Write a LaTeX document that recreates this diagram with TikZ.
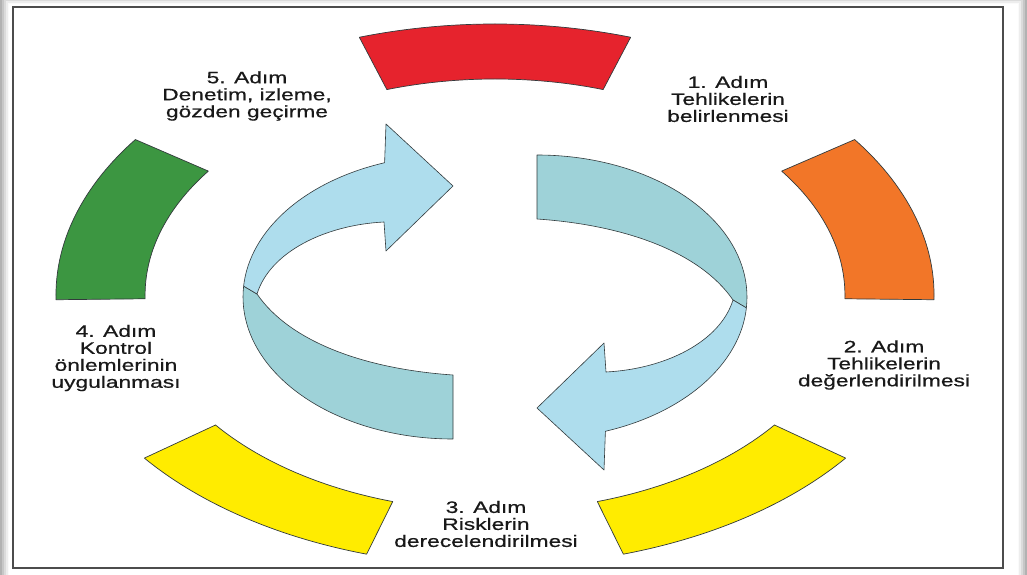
\documentclass[tikz,border=0pt]{standalone}
\usepackage{fontspec}
\setmainfont{Liberation Sans}[FakeStretch=1.38,FakeBold=0.6]
\definecolor{segred}{RGB}{230,35,45}
\definecolor{segorange}{RGB}{242,118,40}
\definecolor{seggreen}{RGB}{60,150,65}
\definecolor{segyellow}{RGB}{255,236,0}
\definecolor{tealband}{RGB}{158,210,216}
\definecolor{blueband}{RGB}{174,221,237}
\definecolor{edgegray}{RGB}{50,58,60}
\tikzset{
  segstyle/.style={draw=edgegray, line width=0.7pt, line join=round},
  ribbon/.style={draw=edgegray, line width=0.6pt, line join=round},
  steplabel/.style={align=center, font=\fontsize{16.5}{17}\selectfont, text=black!90, inner sep=0pt}
}
\begin{document}
\begin{tikzpicture}[x=1pt,y=1pt]
\useasboundingbox (0,0) rectangle (1027,574);
% page shadow and frame
\fill[black!38] (0,0) rectangle (1027,574);
\foreach \o/\c in {9/black!30,7/black!22,5/black!14,3/black!7,1/black!2}{
  \fill[\c] (9-\o,-10) rectangle (1018+\o,570+\o);
}
\fill[white] (9,-10) rectangle (1018,570);
\draw[black!70, line width=1.3pt] (13,6) rectangle (1003,567);
% coloured ring segments
\begin{scope}[shift={(495,279)}, xscale=1.62]
  \foreach \a/\b/\c/\n in {72/108/segred/s5,-1/35/segorange/s1,-73/-37/segyellow/s2,-143/-107/segyellow/s3,145/181/seggreen/s4}{
    \filldraw[segstyle, fill=\c] (\a:271) arc[start angle=\a, end angle=\b, radius=271]
      -- (\b:216) arc[start angle=\b, end angle=\a, radius=216] -- cycle;
  }
\end{scope}
% twisted arrows
\foreach \r in {0,180}{
\begin{scope}[shift={(495,277)}, rotate=\r]
  \filldraw[ribbon, fill=tealband] (42,142) arc[start angle=90, end angle=-4.4, x radius=210, y radius=142]
    -- (238,-3) .. controls (205,45) and (130,72) .. (42,78) -- cycle;
  \filldraw[ribbon, fill=blueband] (251.4,-10.9) arc[start angle=-4.4, end angle=-71, x radius=210, y radius=142]
    -- (109,-173) -- (42,-111) -- (109,-46) -- (111,-75)
    .. controls (170,-72) and (225,-45) .. (238,-3) -- cycle;
\end{scope}
}
% labels
\node[steplabel] (n5) at (247,478) {5. Adım\\Denetim, izleme,\\gözden geçirme};
\node[steplabel] (n1) at (728,475) {1. Adım\\Tehlikelerin\\belirlenmesi};
\node[steplabel] (n2) at (884,209) {2. Adım\\Tehlikelerin\\değerlendirilmesi};
\node[steplabel] (n3) at (486,50) {3. Adım\\Risklerin\\derecelendirilmesi};
\node[steplabel] (n4) at (116,216) {4. Adım\\Kontrol\\önlemlerinin\\uygulanması};
\end{tikzpicture}
\end{document}
